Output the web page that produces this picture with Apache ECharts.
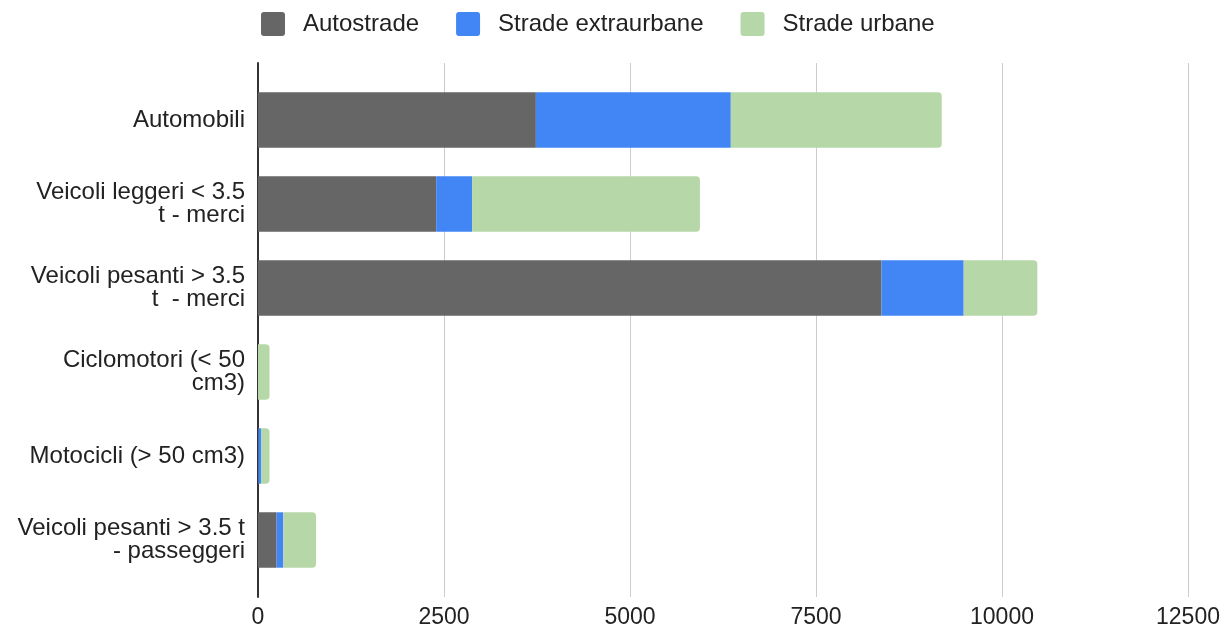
<!DOCTYPE html>
<html lang="it">
<head>
    <meta charset="utf-8">
    <script src="https://cdn.jsdelivr.net/npm/echarts@6/dist/echarts.min.js"></script>
    <style>
        html, body { margin: 0; padding: 0; background: #fff; }
        #chart { width: 1226px; height: 631px; }
    </style>
</head>
<body>
<div id="chart"></div>

<script type="text/javascript">
    // categorie (dall'alto verso il basso)
    var categories = [
        'Automobili',
        'Veicoli leggeri < 3.5\nt - merci',
        'Veicoli pesanti > 3.5\nt  - merci',
        'Ciclomotori (< 50\ncm3)',
        'Motocicli (> 50 cm3)',
        'Veicoli pesanti > 3.5 t\n- passeggeri'
    ];
    var autostrade = [3735, 2395, 8380, 0, 5, 250];
    var extraurbane = [2620, 483, 1105, 0, 40, 90];
    var urbane = [2835, 3062, 990, 155, 110, 440];
    var xTicks = [0, 2500, 5000, 7500, 10000, 12500];

    var font = '"Liberation Sans", Arial, sans-serif';
    var chart = echarts.init(document.getElementById('chart'));

    var option = {
        animation: false,
        color: ['#666666', '#4285f4', '#b6d7a8'],
        legend: {
            top: 7,
            left: 256,
            itemWidth: 24,
            itemHeight: 24,
            itemGap: 37,
            icon: 'path://M3,0 H21 Q24,0 24,3 V21 Q24,24 21,24 H3 Q0,24 0,21 V3 Q0,0 3,0 Z',
            textStyle: {fontFamily: font, fontSize: 24, color: '#222', padding: [0, 0, 0, 13]},
            data: ['Autostrade', 'Strade extraurbane', 'Strade urbane']
        },
        grid: [
            // area delle barre
            {left: 258, right: 38, top: 78, bottom: 49},
            // griglia / asse, un po' più alta delle barre
            {left: 258, right: 38, top: 63, bottom: 34}
        ],
        xAxis: [{
            gridIndex: 0,
            type: 'value',
            min: xTicks[0],
            max: xTicks[xTicks.length - 1],
            interval: 2500,
            show: false
        }, {
            gridIndex: 1,
            type: 'value',
            min: xTicks[0],
            max: xTicks[xTicks.length - 1],
            interval: 2500,
            axisLine: {show: false},
            axisTick: {show: false},
            splitLine: {show: true, lineStyle: {color: '#cccccc', width: 1}},
            axisLabel: {
                margin: 9, fontFamily: font, fontSize: 23, color: '#222',
                formatter: function (v) { return String(v); }
            }
        }],
        yAxis: [{
            gridIndex: 0,
            type: 'category',
            inverse: true,
            data: categories,
            axisLine: {show: false},
            axisTick: {show: false},
            axisLabel: {margin: 13, fontFamily: font, fontSize: 24, lineHeight: 23, color: '#222', align: 'right'}
        }, {
            gridIndex: 1,
            type: 'value',
            min: 0,
            max: 1,
            axisLine: {show: true, onZero: false, lineStyle: {color: '#333', width: 2}},
            axisTick: {show: false},
            axisLabel: {show: false},
            splitLine: {show: false}
        }],
        series: [{
            name: 'Autostrade',
            type: 'bar',
            stack: 'tot',
            barCategoryGap: '34%',
            data: autostrade
        }, {
            name: 'Strade extraurbane',
            type: 'bar',
            stack: 'tot',
            data: extraurbane
        }, {
            name: 'Strade urbane',
            type: 'bar',
            stack: 'tot',
            itemStyle: {borderRadius: [0, 4, 4, 0]},
            data: urbane
        }]
    };

    chart.setOption(option);
</script>
</body>
</html>
